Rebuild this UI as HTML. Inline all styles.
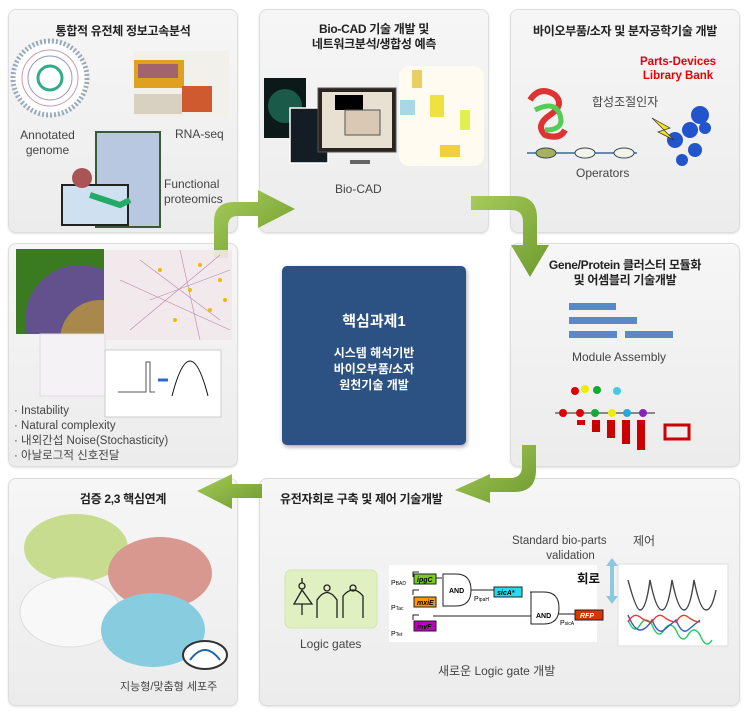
<!DOCTYPE html>
<html><head><meta charset="utf-8">
<style>
*{margin:0;padding:0;box-sizing:border-box}
body{width:750px;height:715px;background:#fff;position:relative;overflow:hidden;font-family:"Liberation Sans","Noto Sans CJK KR",sans-serif;color:#333}
.p{position:absolute;background:linear-gradient(#f6f6f6,#ececec);border:1px solid #ddd;border-radius:8px;box-shadow:0 1px 2px rgba(0,0,0,.12)}
.t{position:absolute;font-size:12px;font-weight:bold;color:#222;text-align:center;white-space:nowrap;letter-spacing:-0.3px}
.l{position:absolute;font-size:12px;color:#444;text-align:center;white-space:nowrap;line-height:15px}
svg{position:absolute;left:0;top:0}
</style></head><body>
<div class="p" style="left:8px;top:9px;width:230px;height:224px"></div>
<div class="p" style="left:259px;top:9px;width:230px;height:224px"></div>
<div class="p" style="left:510px;top:9px;width:230px;height:224px"></div>
<div class="p" style="left:8px;top:243px;width:230px;height:224px"></div>
<div class="p" style="left:510px;top:243px;width:230px;height:224px"></div>
<div class="p" style="left:8px;top:478px;width:230px;height:228px"></div>
<div class="p" style="left:259px;top:478px;width:481px;height:228px"></div>

<div style="position:absolute;left:282px;top:266px;width:184px;height:179px;background:#2c5283;border-radius:5px;box-shadow:1px 2px 4px rgba(0,0,0,.35);color:#fff;text-align:center;font-weight:bold">
<div style="margin-top:44px;font-size:15px">핵심과제1</div>
<div style="margin-top:14px;font-size:12px;line-height:16px">시스템 해석기반<br>바이오부품/소자<br>원천기술 개발</div></div>

<svg width="750" height="715">
<defs><linearGradient id="g" x1="0" y1="0" x2="1" y2="1"><stop offset="0" stop-color="#a6cc5a"/><stop offset="1" stop-color="#6e9a2e"/></linearGradient>
<clipPath id="c1"><rect x="16" y="249" width="88" height="85"/></clipPath></defs>
<path d="M214 258 V222 Q214 202 234 202 H258 V190 L295 209 L258 228 V216 H238 Q228 216 228 226 V258 Z" fill="url(#g)"/>
<path d="M471 196 H515 Q537 196 537 218 V245 H549 L530 277 L511 245 H523 V222 Q523 210 511 210 H471 Z" fill="url(#g)"/>
<path d="M536 445 V470 Q536 492 514 492 H490 V503 L455 490 L490 474 V478 H510 Q522 478 522 466 V445 Z" fill="url(#g)"/>
<path d="M262 484 H232 V474 L197 491 L232 509 V498 H262 Z" fill="url(#g)"/>

<circle cx="50" cy="78" r="37" fill="#fff" stroke="#9ab" stroke-width="5" stroke-dasharray="2 2"/>
<circle cx="50" cy="78" r="28" fill="none" stroke="#c9a" stroke-width="1"/>
<circle cx="50" cy="78" r="22" fill="none" stroke="#99c" stroke-width="1"/>
<circle cx="50" cy="78" r="12" fill="none" stroke="#3a8" stroke-width="3"/>
<rect x="134" y="51" width="95" height="66" fill="#f2f0ea"/>
<rect x="134" y="60" width="50" height="28" fill="#e0a020"/>
<rect x="138" y="64" width="40" height="14" fill="#7a3aa0" opacity=".6"/>
<rect x="182" y="86" width="30" height="26" fill="#d05a30"/>
<rect x="134" y="94" width="48" height="20" fill="#d8d0c0"/>
<rect x="96" y="132" width="64" height="95" fill="#b8c8e0" stroke="#3a5a3a" stroke-width="2"/>
<rect x="62" y="185" width="66" height="40" fill="#cfe0f0" stroke="#222" stroke-width="2"/>
<circle cx="82" cy="178" r="10" fill="#a55"/>
<path d="M90 195 l30 10 l10 -5" stroke="#2a6" stroke-width="6" fill="none"/>

<rect x="264" y="78" width="42" height="60" fill="#0b1a18"/>
<circle cx="285" cy="106" r="17" fill="#1a5a48"/>
<rect x="290" y="108" width="38" height="55" fill="#141c24" stroke="#fff" stroke-width="1.5"/>
<rect x="318" y="88" width="78" height="64" fill="#2a2420" stroke="#555"/>
<rect x="322" y="92" width="70" height="56" fill="#e8e0d0"/>
<rect x="335" y="95" width="28" height="15" fill="#000"/>
<rect x="345" y="110" width="35" height="25" fill="#d8c8b4" stroke="#555"/>
<rect x="350" y="160" width="20" height="4" fill="#666"/>
<rect x="399" y="66" width="85" height="100" rx="10" fill="#fffbf0"/>
<rect x="412" y="70" width="10" height="18" fill="#e8d060"/>
<rect x="430" y="95" width="14" height="22" fill="#f0e040"/>
<rect x="460" y="110" width="10" height="20" fill="#e0f050"/>
<rect x="400" y="100" width="15" height="15" fill="#a8d8e8"/>
<rect x="440" y="145" width="20" height="12" fill="#f0d040"/>

<path d="M530 100 q10 -15 25 -5 q10 10 -5 20 q-15 10 -5 20 q15 5 20 -5" stroke="#d33" stroke-width="6" fill="none"/>
<path d="M535 110 q20 -10 25 5 q5 15 -15 15" stroke="#5c5" stroke-width="5" fill="none"/>
<g fill="#2255cc"><circle cx="700" cy="115" r="9"/><circle cx="690" cy="130" r="8"/><circle cx="675" cy="140" r="8"/><circle cx="695" cy="150" r="7"/><circle cx="682" cy="160" r="6"/><circle cx="705" cy="128" r="6"/></g>
<path d="M652 118 l18 10 l-6 2 l10 10 l-16 -8 l6 -2 z" fill="#f4e020" stroke="#333" stroke-width=".7"/>
<line x1="527" y1="153" x2="637" y2="153" stroke="#3a6a9a" stroke-width="1.5"/>
<g stroke="#345" stroke-width="1"><ellipse cx="546" cy="153" rx="10" ry="5" fill="#a8b060"/><ellipse cx="585" cy="153" rx="10" ry="5" fill="#f4f4e8"/><ellipse cx="624" cy="153" rx="10" ry="5" fill="#f4f4e8"/></g>

<g fill="#5a88c8"><rect x="569" y="303" width="47" height="7"/><rect x="569" y="317" width="68" height="7"/><rect x="569" y="331" width="48" height="7"/><rect x="625" y="331" width="48" height="7"/></g>
<g fill="#c00"><rect x="577" y="420" width="8" height="5"/><rect x="592" y="420" width="8" height="12"/><rect x="607" y="420" width="8" height="18"/><rect x="622" y="420" width="8" height="24"/><rect x="637" y="420" width="8" height="30"/><rect x="665" y="425" width="24" height="14" fill="none" stroke="#c00" stroke-width="3"/></g>
<line x1="555" y1="413" x2="655" y2="413" stroke="#222"/>
<g><circle cx="563" cy="413" r="4" fill="#d00"/><circle cx="580" cy="413" r="4" fill="#d00"/><circle cx="595" cy="413" r="4" fill="#1a3"/><circle cx="612" cy="413" r="4" fill="#ee0"/><circle cx="627" cy="413" r="4" fill="#2ad"/><circle cx="643" cy="413" r="4" fill="#82b"/><circle cx="575" cy="391" r="4" fill="#d00"/><circle cx="585" cy="389" r="4" fill="#ee0"/><circle cx="597" cy="390" r="4" fill="#1a3"/><circle cx="617" cy="391" r="4" fill="#4cd"/></g>

<rect x="104" y="250" width="128" height="90" fill="#f2e8ec" opacity=".9"/>
<g stroke="#b8a" stroke-width=".6"><line x1="140" y1="260" x2="220" y2="320"/><line x1="150" y1="300" x2="230" y2="270"/><line x1="180" y1="250" x2="200" y2="340"/><line x1="120" y1="280" x2="230" y2="330"/><line x1="130" y1="330" x2="220" y2="255"/></g>
<g fill="#eb0"><circle cx="160" cy="270" r="2"/><circle cx="190" cy="290" r="2"/><circle cx="210" cy="310" r="2"/><circle cx="175" cy="320" r="2"/><circle cx="220" cy="280" r="2"/><circle cx="200" cy="265" r="2"/><circle cx="225" cy="300" r="2"/></g>
<rect x="16" y="249" width="88" height="85" fill="#3a7a20"/>
<g clip-path="url(#c1)"><circle cx="80" cy="320" r="55" fill="#6a4aa0" opacity=".85"/><circle cx="100" cy="340" r="40" fill="#c8a030" opacity=".7"/></g>
<rect x="40" y="334" width="65" height="62" fill="#f4f2f4" stroke="#ddd"/>
<rect x="105" y="350" width="116" height="67" fill="#fff" stroke="#ccc"/>
<path d="M118 392 h28 v-30 h4 v30 h5" stroke="#555" fill="none"/>
<path d="M158 380 h10" stroke="#36c" stroke-width="3"/>
<path d="M172 396 q18 -70 36 0" stroke="#111" fill="none"/>

<ellipse cx="76" cy="548" rx="52" ry="34" fill="#c8dc90"/>
<ellipse cx="160" cy="573" rx="52" ry="36" fill="#d89890"/>
<ellipse cx="70" cy="612" rx="50" ry="35" fill="#f8f8f8" stroke="#ddd"/>
<ellipse cx="153" cy="630" rx="52" ry="37" fill="#88cce0"/>
<ellipse cx="205" cy="655" rx="22" ry="14" fill="#fff" stroke="#333" stroke-width="2"/>
<path d="M190 660 q15 -20 30 0" stroke="#26a" stroke-width="2" fill="none"/>

<rect x="285" y="570" width="92" height="58" rx="6" fill="#e0f0c0" stroke="#cfe6b0"/>
<g stroke="#222" stroke-width="1.3" fill="none"><path d="M302 590 L294 604 H312 Z"/><circle cx="302" cy="586" r="3"/><path d="M302 578 V583 M302 604 V615"/><path d="M317 618 V600 Q327 585 337 600 V618"/><circle cx="327" cy="588" r="3"/><path d="M343 618 V596 Q353 584 363 596 V618"/><circle cx="353" cy="588" r="3"/></g>
<rect x="389" y="565" width="208" height="77" fill="#fff"/>
<g stroke="#222" stroke-width="1" fill="none"><path d="M413 577 V572 h6"/><path d="M413 595 V590 h6"/><path d="M413 620 V615 h6"/><line x1="436" y1="578" x2="442" y2="578"/><path d="M443 574 h13 q15 0 15 16 q0 16 -15 16 h-13 z" fill="#fff"/><line x1="471" y1="590" x2="494" y2="590"/><path d="M530 592 h6 v10 h8"/><path d="M531 598 h13 q15 0 15 16 q0 16 -15 16 h-13 z" fill="#fff" transform="translate(0,-6)"/><line x1="433" y1="630" x2="531" y2="630" transform="translate(0,-14)"/><line x1="558" y1="614" x2="575" y2="614"/></g>
<rect x="414" y="574" width="22" height="10" fill="#7c2" stroke="#222"/>
<rect x="414" y="597" width="22" height="10" fill="#f90" stroke="#222"/>
<rect x="414" y="621" width="22" height="10" fill="#b0b" stroke="#222"/>
<rect x="494" y="587" width="28" height="10" fill="#2de" stroke="#222"/>
<rect x="575" y="610" width="28" height="10" fill="#d30" stroke="#222"/>
<g font-family="Liberation Sans" font-size="7" font-weight="bold" font-style="italic"><text x="417" y="582">ipgC</text><text x="417" y="605">mxiE</text><text x="417" y="629">invF</text><text x="497" y="595">sicA*</text><text x="580" y="618" fill="#fff">RFP</text></g>
<g font-family="Liberation Sans" font-size="7" font-weight="bold"><text x="449" y="593">AND</text><text x="536" y="618">AND</text></g>
<g font-family="Liberation Sans" font-size="7"><text x="391" y="585">P<tspan font-size="5">BAD</tspan></text><text x="391" y="610">P<tspan font-size="5">Tac</tspan></text><text x="391" y="636">P<tspan font-size="5">Tet</tspan></text><text x="474" y="601">P<tspan font-size="5">ipaH</tspan></text><text x="560" y="625">P<tspan font-size="5">sicA</tspan></text></g>
<path d="M612 558 l-6 8 h4 v30 h-4 l6 8 l6 -8 h-4 v-30 h4 z" fill="#8cc8e0"/>
<rect x="618" y="564" width="110" height="82" fill="#fff" stroke="#ddd"/>
<g fill="none" stroke-width="1.4"><path d="M628 580 q8 30 12 30 q6 0 10 -30 q6 30 12 30 q6 0 10 -30 q6 30 12 30 q6 0 10 -30 q6 30 12 30 q6 0 10 -20" stroke="#444"/><path d="M628 620 q6 15 12 5 q6 -10 12 0 q6 15 12 5 q6 -10 12 0 q6 15 12 5 q6 -10 12 0 q6 15 12 5" stroke="#2c6"/><path d="M628 615 q6 15 12 15 q6 0 12 -10 q6 15 12 10 q6 -5 12 -10 q6 15 12 10 q6 -5 12 -10" stroke="#35c"/><path d="M628 622 q6 -10 12 -5 q6 5 12 5 q6 -10 12 -5 q6 5 12 5 q6 -10 12 -5 q6 5 12 5" stroke="#e33"/></g>
</svg>

<div class="t" style="left:8px;top:22px;width:230px">통합적 유전체 정보고속분석</div>
<div class="l" style="left:10px;top:128px;width:75px">Annotated<br>genome</div>
<div class="l" style="left:175px;top:127px">RNA-seq</div>
<div class="l" style="left:164px;top:177px;text-align:left">Functional<br>proteomics</div>

<div class="t" style="left:259px;top:22px;width:230px;line-height:15px">Bio-CAD 기술 개발 및<br>네트워크분석/생합성 예측</div>
<div class="l" style="left:335px;top:182px">Bio-CAD</div>

<div class="t" style="left:510px;top:22px;width:230px">바이오부품/소자 및 분자공학기술 개발</div>
<div class="l" style="left:640px;top:55px;color:#e00;font-weight:bold;font-size:11.5px;line-height:14px">Parts-Devices<br>Library Bank</div>
<div class="l" style="left:592px;top:95px">합성조절인자</div>
<div class="l" style="left:576px;top:166px">Operators</div>

<div class="t" style="left:510px;top:258px;width:230px;line-height:15px">Gene/Protein 클러스터 모듈화<br>및 어셈블리 기술개발</div>
<div class="l" style="left:572px;top:350px">Module Assembly</div>

<div class="l" style="left:14px;top:404px;text-align:left;font-size:11.5px">· Instability<br>· Natural complexity<br>· 내외간섭 Noise(Stochasticity)<br>· 아날로그적 신호전달</div>

<div class="t" style="left:8px;top:490px;width:230px">검증 2,3 핵심연계</div>
<div class="l" style="left:120px;top:680px;font-size:11px">지능형/맞춤형 세포주</div>

<div class="t" style="left:280px;top:490px;font-weight:bold">유전자회로 구축 및 제어 기술개발</div>
<div class="l" style="left:512px;top:534px;font-size:11.5px">Standard bio-parts<br>&nbsp;&nbsp;&nbsp;&nbsp;&nbsp;&nbsp;&nbsp;validation</div>
<div class="l" style="left:633px;top:534px">제어</div>
<div class="l" style="left:577px;top:572px;font-weight:bold;font-size:12.5px;color:#111">회로</div>
<div class="l" style="left:300px;top:637px">Logic gates</div>
<div class="l" style="left:438px;top:664px">새로운 Logic gate 개발</div>
</body></html>
